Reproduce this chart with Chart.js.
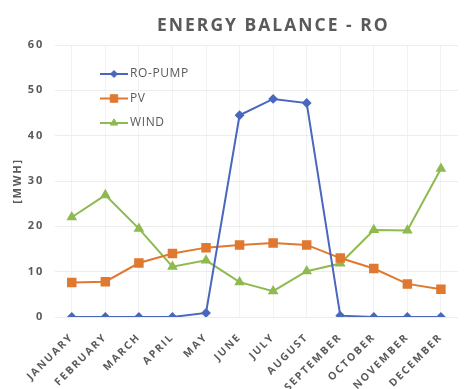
<!DOCTYPE html>
<html>
<head>
<meta charset="utf-8">
<title>Energy balance - RO</title>
<script src="https://cdn.jsdelivr.net/npm/chart.js@4.4.0/dist/chart.umd.min.js"></script>
<style>
  html, body { margin: 0; padding: 0; background: #fff; }
  #wrap { width: 465px; height: 389px; position: relative; }
</style>
</head>
<body>
<div id="wrap"><canvas id="energy"></canvas></div>
<script>
const months = ['JANUARY', 'FEBRUARY', 'MARCH', 'APRIL', 'MAY', 'JUNE', 'JULY',
  'AUGUST', 'SEPTEMBER', 'OCTOBER', 'NOVEMBER', 'DECEMBER'];
const roPump = [0, 0, 0, 0, 0.9, 44.5, 48.1, 47.2, 0.3, 0, 0, 0];
const pv = [7.6, 7.8, 11.9, 14.0, 15.3, 15.9, 16.3, 15.9, 13.0, 10.7, 7.3, 6.1];
const wind = [22.0, 26.9, 19.5, 11.1, 12.5, 7.7, 5.7, 10.1, 11.8, 19.2, 19.1, 32.7];
const yTicks = [0, 10, 20, 30, 40, 50, 60];

const TEXT = '#5a5a5a';
const FONT = '"Open Sans", "DejaVu Sans", sans-serif';

// letter spacing for the axis text (chart.js has no option for it)
const spacing = {
  id: 'spacing',
  beforeDraw(chart) {
    chart.ctx.letterSpacing = '1.8px';
  }
};

// chart title, centred a little right of the plot
const heading = {
  id: 'heading',
  afterDraw(chart) {
    const { ctx, chartArea } = chart;
    ctx.save();
    ctx.letterSpacing = '2px';
    ctx.font = 'bold 17.5px ' + FONT;
    ctx.fillStyle = TEXT;
    ctx.textAlign = 'center';
    ctx.textBaseline = 'middle';
    ctx.fillText('ENERGY BALANCE - RO', (chartArea.left + chartArea.right) / 2 + 17, 26);
    ctx.restore();
  }
};

// legend drawn inside the plot, top left
const innerLegend = {
  id: 'innerLegend',
  afterDatasetsDraw(chart) {
    const { ctx, chartArea } = chart;
    ctx.save();
    ctx.letterSpacing = '0.6px';
    ctx.font = '12px ' + FONT;
    ctx.textBaseline = 'middle';
    chart.data.datasets.forEach((ds, i) => {
      const x = chartArea.left + 45;
      const y = chartArea.top + 29 + i * 24.5;
      ctx.strokeStyle = ds.borderColor;
      ctx.lineWidth = 2;
      ctx.beginPath();
      ctx.moveTo(x, y);
      ctx.lineTo(x + 28, y);
      ctx.stroke();
      ctx.fillStyle = ds.backgroundColor;
      ctx.lineWidth = 1;
      Chart.helpers.drawPoint(ctx, {
        pointStyle: ds.pointStyle,
        radius: ds.pointRadius,
        rotation: 0,
        borderWidth: 1
      }, x + 14, y);
      ctx.fillStyle = TEXT;
      ctx.fillText(ds.label, x + 30, y);
    });
    ctx.restore();
  }
};

new Chart(document.getElementById('energy'), {
  type: 'line',
  data: {
    labels: months,
    datasets: [
      {
        label: 'RO-PUMP',
        data: roPump,
        borderColor: '#4967bd',
        backgroundColor: '#4967bd',
        pointStyle: 'rectRot',
        pointRadius: 3.5,
        borderWidth: 2
      },
      {
        label: 'PV',
        data: pv,
        borderColor: '#e0782f',
        backgroundColor: '#e0782f',
        pointStyle: 'rect',
        pointRadius: 5.3,
        borderWidth: 2
      },
      {
        label: 'WIND',
        data: wind,
        borderColor: '#8eba50',
        backgroundColor: '#8eba50',
        pointStyle: 'triangle',
        pointRadius: 4.2,
        borderWidth: 2
      }
    ]
  },
  options: {
    responsive: true,
    maintainAspectRatio: false,
    animation: false,
    layout: { padding: { top: 45, right: 0, bottom: 0, left: 0 } },
    plugins: {
      legend: { display: false },
      tooltip: { enabled: false }
    },
    scales: {
      x: {
        offset: true,
        grid: { color: '#f2f2f2', drawTicks: false },
        border: { display: false },
        ticks: {
          color: TEXT,
          font: { family: FONT, size: 10.5, weight: 'bold' },
          minRotation: 45,
          maxRotation: 45,
          autoSkip: false,
          padding: 14
        },
        afterFit(scale) { scale.height = 72; }
      },
      y: {
        min: yTicks[0],
        max: yTicks[yTicks.length - 1],
        grid: { color: '#ececec', drawTicks: false },
        border: { display: false },
        ticks: {
          stepSize: yTicks[1] - yTicks[0],
          color: TEXT,
          font: { family: FONT, size: 11, weight: 'bold' },
          padding: 11
        },
        title: {
          display: true,
          text: '[MWH]',
          color: TEXT,
          font: { family: FONT, size: 11, weight: 'bold' },
          padding: { top: 11, bottom: 0 }
        },
        afterFit(scale) { scale.width = 55; }
      }
    }
  },
  plugins: [spacing, heading, innerLegend]
});
</script>
</body>
</html>
